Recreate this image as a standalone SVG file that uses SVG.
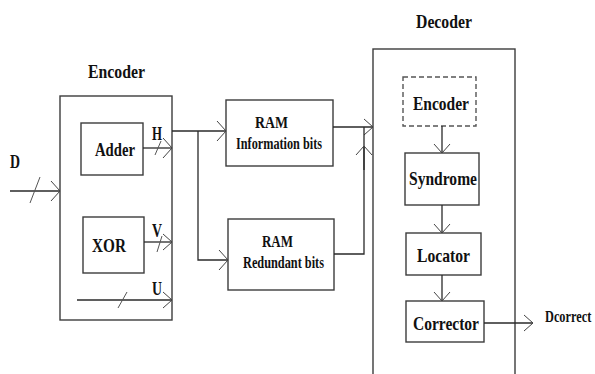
<svg xmlns="http://www.w3.org/2000/svg" width="595" height="374" viewBox="0 0 595 374">
<defs>
<style>
.box{fill:#fff;stroke:#3c3c3c;stroke-width:1.4}
.dash{fill:#fff;stroke:#555;stroke-width:1.4;stroke-dasharray:5,3}
.ln{fill:none;stroke:#2a2a2a;stroke-width:1.3}
.sl{fill:none;stroke:#555;stroke-width:1}
text{font-family:'Liberation Serif','Times New Roman',serif;font-weight:bold;fill:#111}
.lbl{font-size:19px}
.sm{font-size:17px}
</style>
<marker id="ab" markerUnits="userSpaceOnUse" markerWidth="12" markerHeight="22" refX="10" refY="11" orient="auto">
<path d="M1,1 L10,11 L1,21" fill="none" stroke="#444" stroke-width="1"/>
</marker>
<marker id="as" markerUnits="userSpaceOnUse" markerWidth="12" markerHeight="18" refX="10" refY="9" orient="auto">
<path d="M1,1 L10,9 L1,17" fill="none" stroke="#444" stroke-width="1"/>
</marker>
</defs>
<rect width="595" height="374" fill="#fff"/>

<text class="lbl" x="88" y="78" textLength="57" lengthAdjust="spacingAndGlyphs">Encoder</text>
<text class="lbl" x="416" y="28" textLength="56" lengthAdjust="spacingAndGlyphs">Decoder</text>

<g id="encoder">
<rect class="box" x="60" y="96" width="112" height="224"/>
</g>
<g id="adder">
<rect class="box" x="81" y="123" width="62" height="52"/>
<text class="lbl" x="95" y="156" textLength="40" lengthAdjust="spacingAndGlyphs">Adder</text>
</g>
<g id="xor">
<rect class="box" x="83" y="217" width="61" height="56"/>
<text class="lbl" x="92" y="252" textLength="34" lengthAdjust="spacingAndGlyphs">XOR</text>
</g>
<g id="ram-info">
<rect class="box" x="226" y="100" width="107" height="66"/>
<text class="sm" x="255" y="128" textLength="33" lengthAdjust="spacingAndGlyphs">RAM</text>
<text class="sm" x="236" y="149" textLength="86" lengthAdjust="spacingAndGlyphs">Information bits</text>
</g>
<g id="ram-red">
<rect class="box" x="228" y="219" width="106" height="71"/>
<text class="sm" x="262" y="247" textLength="31" lengthAdjust="spacingAndGlyphs">RAM</text>
<text class="sm" x="243" y="268" textLength="81" lengthAdjust="spacingAndGlyphs">Redundant bits</text>
</g>
<g id="decoder">
<rect class="box" x="373" y="49" width="142" height="340"/>
</g>
<g id="dec-encoder">
<rect class="dash" x="403" y="77" width="73" height="49"/>
<text class="lbl" x="413" y="110" textLength="56" lengthAdjust="spacingAndGlyphs">Encoder</text>
</g>
<g id="syndrome">
<rect class="box" x="405" y="153" width="74" height="52"/>
<text class="lbl" x="409" y="185" textLength="68" lengthAdjust="spacingAndGlyphs">Syndrome</text>
</g>
<g id="locator">
<rect class="box" x="406" y="233" width="75" height="42"/>
<text class="lbl" x="417" y="262" textLength="53" lengthAdjust="spacingAndGlyphs">Locator</text>
</g>
<g id="corrector">
<rect class="box" x="406" y="301" width="78" height="41"/>
<text class="lbl" x="413" y="330" textLength="66" lengthAdjust="spacingAndGlyphs">Corrector</text>
</g>

<g id="connectors">
<line class="ln" x1="10" y1="191" x2="60" y2="191" marker-end="url(#ab)"/>
<line class="sl" x1="30" y1="203" x2="40" y2="177"/>
<line class="ln" x1="143" y1="148" x2="172" y2="148" marker-end="url(#ab)"/>
<line class="sl" x1="155" y1="155" x2="161" y2="141"/>
<line class="ln" x1="144" y1="242" x2="172" y2="242" marker-end="url(#as)"/>
<line class="sl" x1="157" y1="252" x2="162" y2="236"/>
<line class="ln" x1="77" y1="300" x2="172" y2="300" marker-end="url(#as)"/>
<line class="sl" x1="118" y1="308" x2="127" y2="292"/>
<polyline class="ln" points="172,131 226,131" marker-end="url(#ab)"/>
<polyline class="ln" points="198,131 198,260 228,260" marker-end="url(#ab)"/>
<polyline class="ln" points="333,127 373,127" marker-end="url(#as)"/>
<polyline class="ln" points="334,254 364,254 364,127"/>
<line class="ln" x1="364" y1="170" x2="364" y2="146" marker-end="url(#as)"/>
<line class="ln" x1="442" y1="126" x2="442" y2="153" marker-end="url(#as)"/>
<line class="ln" x1="442" y1="205" x2="442" y2="233" marker-end="url(#as)"/>
<line class="ln" x1="442" y1="275" x2="442" y2="301" marker-end="url(#as)"/>
<line class="ln" x1="484" y1="323" x2="533" y2="323" marker-end="url(#as)"/>
</g>

<text class="lbl" x="10" y="168" textLength="10" lengthAdjust="spacingAndGlyphs">D</text>
<text class="lbl" x="152" y="140" textLength="10" lengthAdjust="spacingAndGlyphs">H</text>
<text class="lbl" x="152" y="237" textLength="10" lengthAdjust="spacingAndGlyphs">V</text>
<text class="lbl" x="152" y="295" textLength="10" lengthAdjust="spacingAndGlyphs">U</text>
<text style="font-size:14px" transform="translate(545,322) scale(0.88,1.15)">Dcorrect</text>
</svg>
